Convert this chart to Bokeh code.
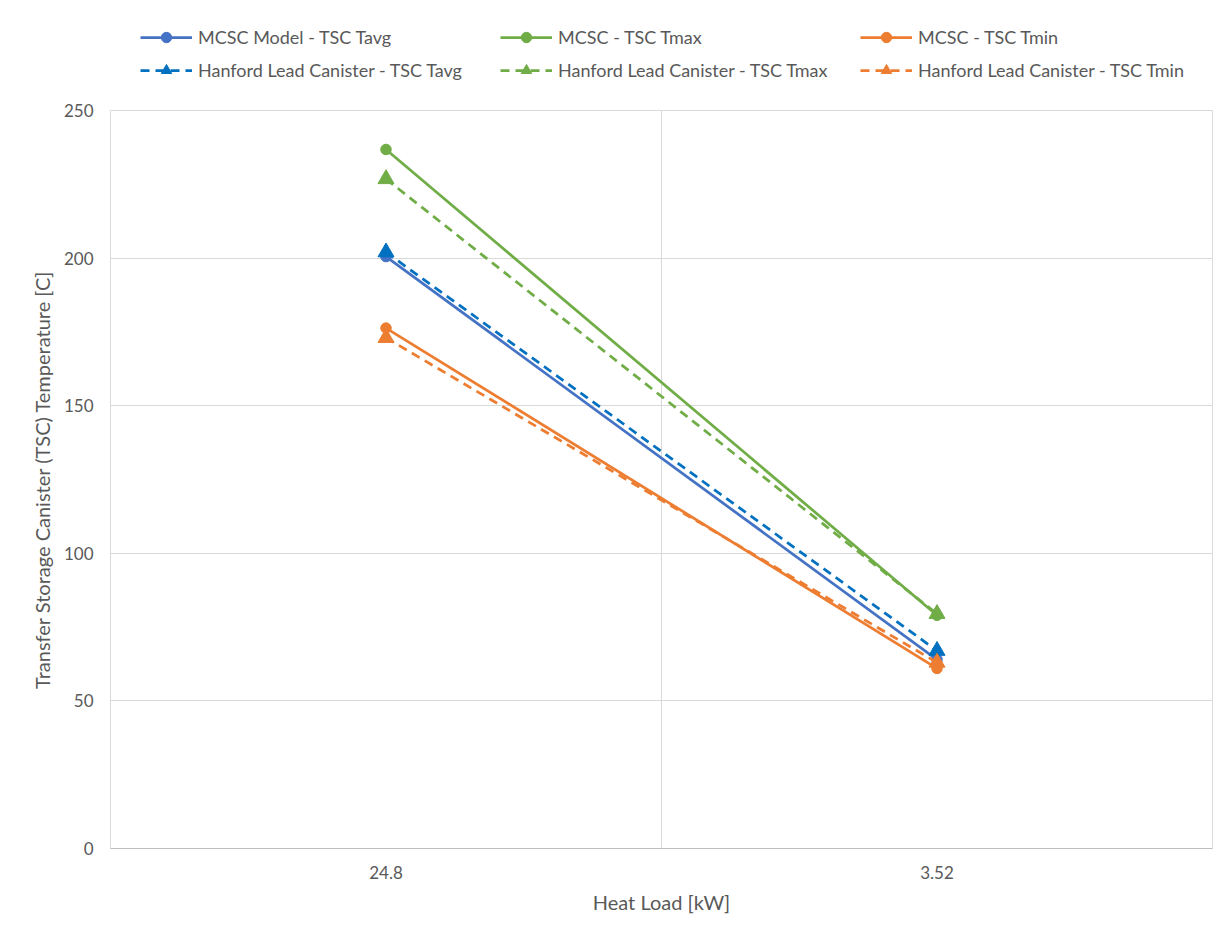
from bokeh.plotting import figure
from bokeh.models import Legend, LegendItem, FixedTicker, Grid, Range1d
from bokeh.layouts import column
from bokeh.embed import file_html
from bokeh.resources import INLINE

categories = ["24.8", "3.52"]
mcsc_tavg = [200.5, 64.0]
mcsc_tmax = [236.8, 79.0]
mcsc_tmin = [176.3, 61.0]
hanford_tavg = [202.0, 67.0]
hanford_tmax = [226.8, 79.5]
hanford_tmin = [173.0, 63.0]

x = [i + 0.5 for i in range(len(categories))]

FONT = "Lato"
TXT = "#595959"
GRID = "#d9d9d9"
W = 1218
LEG_H = 90

p = figure(width=W, height=834, output_backend="svg", toolbar_location=None,
           x_range=Range1d(0, len(categories)), y_range=Range1d(0, 250),
           min_border_left=110, min_border_right=6, min_border_top=20, min_border_bottom=76)
p.outline_line_color = GRID
p.outline_line_width = 1
p.background_fill_color = "white"
p.border_fill_color = "white"

p.xaxis.ticker = FixedTicker(ticks=x)
p.xaxis.major_label_overrides = {xv: c for xv, c in zip(x, categories)}
p.yaxis.ticker = FixedTicker(ticks=[0, 50, 100, 150, 200, 250])

for ax in (p.xaxis[0], p.yaxis[0]):
    ax.major_tick_line_color = None
    ax.minor_tick_line_color = None
    ax.major_label_text_font = FONT
    ax.major_label_text_font_size = "17px"
    ax.major_label_text_color = TXT
    ax.axis_label_text_font = FONT
    ax.axis_label_text_font_size = "20px"
    ax.axis_label_text_font_style = "normal"
    ax.axis_label_text_color = TXT
p.xaxis.axis_line_color = "#bfbfbf"
p.yaxis.axis_line_color = GRID
p.xaxis.axis_label = "Heat Load [kW]"
p.yaxis.axis_label = "Transfer Storage Canister (TSC) Temperature [C]"
p.xaxis.major_label_standoff = 11
p.yaxis.major_label_standoff = 11
p.xaxis.axis_label_standoff = 8
p.yaxis.axis_label_standoff = 7

p.xgrid.grid_line_color = None
p.ygrid.grid_line_color = GRID
p.add_layout(Grid(dimension=0, ticker=FixedTicker(ticks=[1, 2]), grid_line_color=GRID))

series = [
    ("MCSC Model - TSC Tavg", mcsc_tavg, "#4472C4", "solid", "circle"),
    ("MCSC - TSC Tmax", mcsc_tmax, "#70AD47", "solid", "circle"),
    ("MCSC - TSC Tmin", mcsc_tmin, "#ED7D31", "solid", "circle"),
    ("Hanford Lead Canister - TSC Tavg", hanford_tavg, "#0070C0", "9 6", "triangle"),
    ("Hanford Lead Canister - TSC Tmax", hanford_tmax, "#70AD47", "9 6", "triangle"),
    ("Hanford Lead Canister - TSC Tmin", hanford_tmin, "#ED7D31", "9 6", "triangle"),
]

# legend strip above the chart (its frame is aligned with the chart's frame)
lf = figure(width=W, height=LEG_H, output_backend="svg", toolbar_location=None,
            x_range=Range1d(0, 1), y_range=Range1d(0, 1),
            x_axis_location=None, y_axis_location=None,
            min_border_left=0, min_border_right=0, min_border_top=0, min_border_bottom=0)
lf.grid.visible = False
lf.outline_line_color = None
lf.background_fill_color = "white"
lf.border_fill_color = "white"

items = {}
for name, ys, col, dash, mk in series:
    sz = 10.5 if mk == "circle" else 16
    p.line(x, ys, line_color=col, line_width=2.75, line_dash=dash)
    p.scatter(x, ys, marker=mk, size=sz, fill_color=col, line_color=col)
    # off-range copies used only for legend glyphs
    xo = [v - 10 for v in x]
    ll = lf.line(xo, ys, line_color=col, line_width=2.75, line_dash=dash)
    ls = lf.scatter(xo, ys, marker=mk, size=sz * 0.8, fill_color=col, line_color=col)
    items[name] = LegendItem(label=name, renderers=[ll, ls])

names = [s[0] for s in series]
order = [names[0], names[3], names[1], names[4], names[2], names[5]]  # column-major fill

legend = Legend(items=[items[n] for n in order], ncols=3, location=(30, 7),
                glyph_width=52, glyph_height=26, label_standoff=6, spacing=7,
                label_width=295, label_height=26,
                label_text_font=FONT, label_text_font_size="18px", label_text_color=TXT,
                background_fill_alpha=0, border_line_color=None, padding=0, margin=0)
lf.add_layout(legend, "center")

layout = column(lf, p, spacing=0)
open("out.html", "w").write(file_html(layout, INLINE))
